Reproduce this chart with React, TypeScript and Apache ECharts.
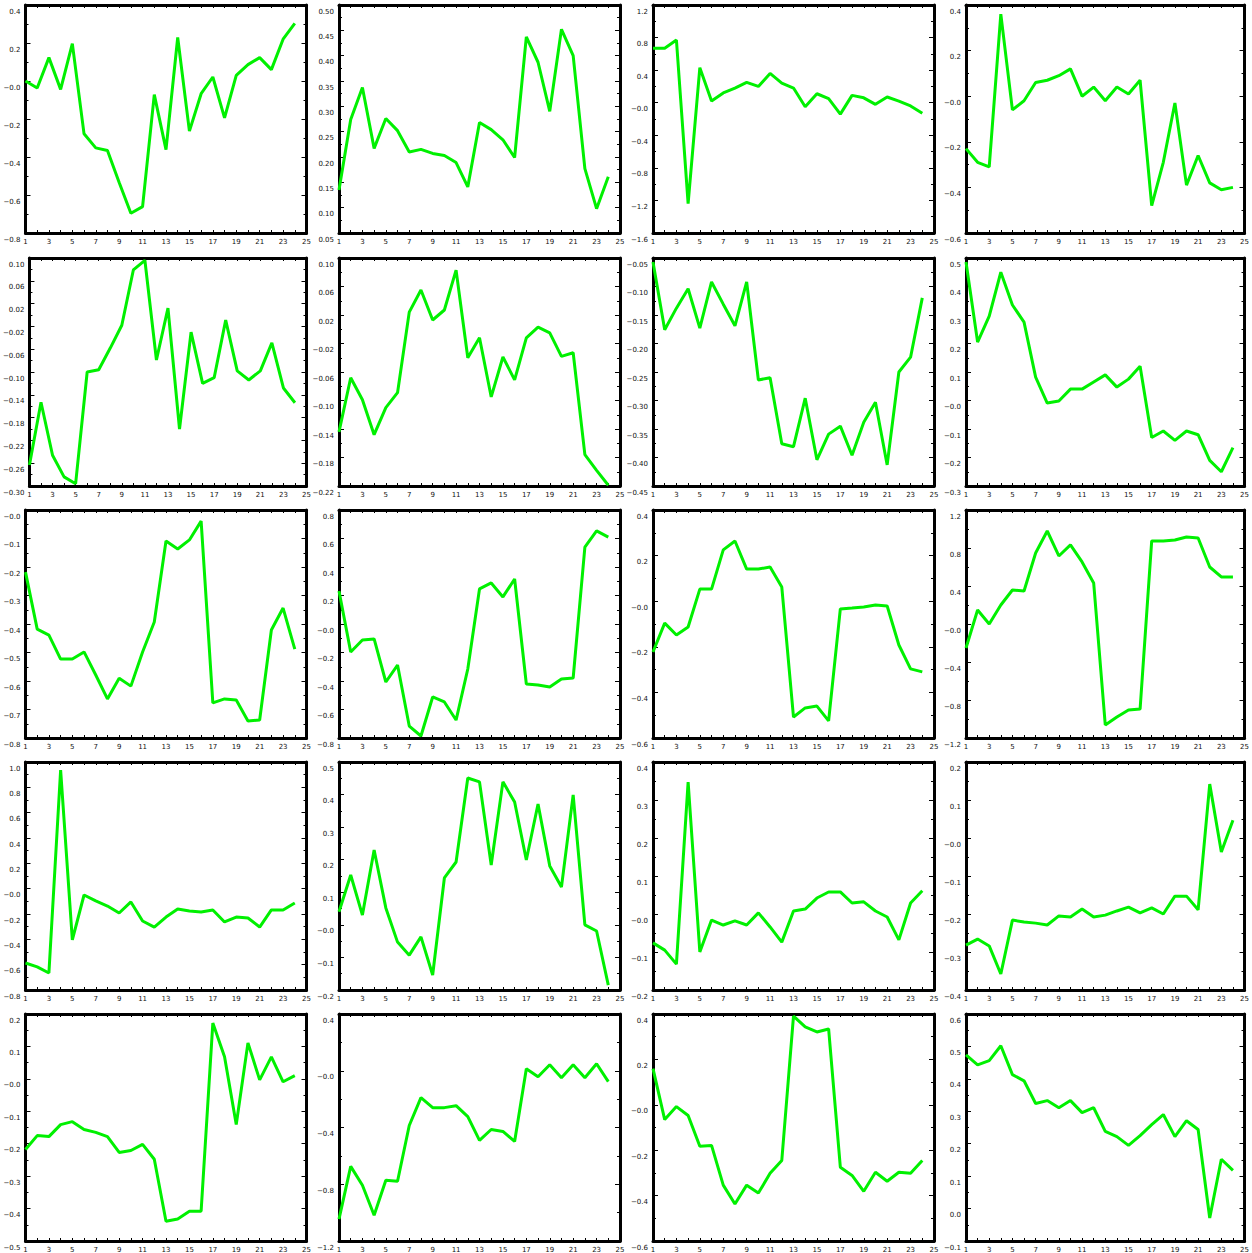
import React, { useEffect, useRef } from "react";
import * as echarts from "echarts";

// x positions 1..24
const xs: number[] = Array.from({ length: 24 }, (_, i) => i + 1);

// Row 1
const s11 = [0.0, -0.037, 0.123, -0.044, 0.197, -0.278, -0.352, -0.366, -0.534, -0.696, -0.661, -0.072, -0.361, 0.229, -0.264, -0.067, 0.021, -0.194, 0.03, 0.086, 0.123, 0.06, 0.22, 0.303];
const s12 = [0.135, 0.274, 0.337, 0.217, 0.276, 0.252, 0.21, 0.215, 0.207, 0.203, 0.189, 0.141, 0.268, 0.254, 0.234, 0.199, 0.437, 0.387, 0.29, 0.452, 0.4, 0.177, 0.098, 0.161];
const s13 = [0.67, 0.67, 0.77, -1.24, 0.43, 0.02, 0.12, 0.18, 0.25, 0.2, 0.36, 0.24, 0.18, -0.05, 0.11, 0.05, -0.14, 0.09, 0.06, -0.02, 0.07, 0.02, -0.04, -0.13];
const s14 = [-0.23, -0.29, -0.31, 0.36, -0.06, -0.02, 0.06, 0.07, 0.09, 0.12, 0.0, 0.04, -0.02, 0.04, 0.01, 0.07, -0.48, -0.29, -0.03, -0.39, -0.26, -0.38, -0.41, -0.4];
// Row 2
const s21 = [-0.263, -0.153, -0.246, -0.284, -0.296, -0.1, -0.096, -0.058, -0.018, 0.079, 0.096, -0.079, 0.012, -0.2, -0.03, -0.12, -0.11, -0.009, -0.098, -0.114, -0.098, -0.049, -0.128, -0.154];
const s22 = [-0.144, -0.068, -0.099, -0.148, -0.11, -0.089, 0.024, 0.055, 0.013, 0.027, 0.083, -0.04, -0.012, -0.095, -0.039, -0.071, -0.012, 0.003, -0.005, -0.038, -0.033, -0.176, -0.198, -0.219];
const s23 = [-0.057, -0.176, -0.138, -0.104, -0.173, -0.092, -0.131, -0.169, -0.092, -0.264, -0.26, -0.376, -0.381, -0.296, -0.404, -0.359, -0.345, -0.396, -0.338, -0.303, -0.413, -0.25, -0.224, -0.12];
const s24 = [0.486, 0.205, 0.296, 0.45, 0.335, 0.275, 0.082, -0.009, -0.002, 0.04, 0.04, 0.065, 0.09, 0.047, 0.075, 0.12, -0.13, -0.107, -0.14, -0.107, -0.12, -0.21, -0.25, -0.165];
// Row 3
const s31 = [-0.218, -0.418, -0.439, -0.523, -0.523, -0.498, -0.579, -0.663, -0.59, -0.618, -0.498, -0.393, -0.109, -0.137, -0.105, -0.039, -0.677, -0.663, -0.667, -0.74, -0.737, -0.421, -0.344, -0.488];
const s32 = [0.232, -0.197, -0.112, -0.105, -0.407, -0.288, -0.716, -0.786, -0.512, -0.547, -0.674, -0.316, 0.246, 0.288, 0.19, 0.316, -0.421, -0.428, -0.442, -0.386, -0.379, 0.54, 0.653, 0.61];
const s33 = [-0.223, -0.096, -0.148, -0.113, 0.053, 0.053, 0.225, 0.264, 0.141, 0.141, 0.15, 0.062, -0.508, -0.468, -0.46, -0.525, -0.034, -0.03, -0.025, -0.017, -0.021, -0.192, -0.297, -0.31];
const s34 = [-0.253, 0.147, 0.0, 0.2, 0.358, 0.347, 0.747, 0.979, 0.716, 0.832, 0.653, 0.432, -1.063, -0.979, -0.905, -0.895, 0.874, 0.874, 0.884, 0.916, 0.905, 0.6, 0.495, 0.495];
// Row 4
const s41 = [-0.587, -0.618, -0.666, 0.937, -0.405, -0.05, -0.097, -0.137, -0.192, -0.105, -0.255, -0.303, -0.224, -0.161, -0.176, -0.184, -0.168, -0.263, -0.224, -0.232, -0.303, -0.168, -0.168, -0.113];
const s42 = [0.04, 0.153, 0.03, 0.23, 0.052, -0.053, -0.093, -0.037, -0.154, 0.144, 0.193, 0.451, 0.439, 0.184, 0.439, 0.377, 0.199, 0.371, 0.181, 0.116, 0.399, 0.0, -0.019, -0.185];
const s43 = [-0.076, -0.095, -0.132, 0.347, -0.1, -0.016, -0.029, -0.018, -0.029, 0.003, -0.034, -0.074, 0.008, 0.013, 0.042, 0.058, 0.058, 0.029, 0.032, 0.008, -0.008, -0.068, 0.029, 0.061];
const s44 = [-0.282, -0.266, -0.284, -0.358, -0.216, -0.221, -0.224, -0.229, -0.205, -0.208, -0.187, -0.208, -0.203, -0.192, -0.182, -0.197, -0.184, -0.2, -0.153, -0.153, -0.189, 0.142, -0.037, 0.047];
// Row 5
const s51 = [-0.218, -0.175, -0.178, -0.141, -0.132, -0.156, -0.165, -0.178, -0.227, -0.221, -0.202, -0.248, -0.439, -0.432, -0.408, -0.408, 0.172, 0.068, -0.141, 0.111, -0.003, 0.068, -0.009, 0.01];
const s52 = [-1.046, -0.674, -0.807, -1.018, -0.772, -0.779, -0.386, -0.19, -0.26, -0.26, -0.246, -0.323, -0.491, -0.414, -0.428, -0.498, 0.014, -0.042, 0.042, -0.049, 0.042, -0.049, 0.049, -0.077];
const s53 = [0.159, -0.065, -0.008, -0.047, -0.183, -0.179, -0.354, -0.437, -0.354, -0.389, -0.302, -0.245, 0.391, 0.343, 0.321, 0.334, -0.275, -0.311, -0.381, -0.297, -0.337, -0.297, -0.302, -0.245];
const s54 = [0.474, 0.443, 0.456, 0.502, 0.413, 0.394, 0.324, 0.333, 0.311, 0.333, 0.296, 0.311, 0.238, 0.222, 0.195, 0.225, 0.259, 0.29, 0.222, 0.271, 0.244, -0.029, 0.152, 0.118];

const seriesList: number[][] = [s11, s12, s13, s14, s21, s22, s23, s24, s31, s32, s33, s34, s41, s42, s43, s44, s51, s52, s53, s54];

// y axis ranges: [min, max, interval, decimals, zero label]
const yMins = [-0.8, 0.05, -1.6, -0.6, -0.3, -0.22, -0.45, -0.3, -0.8, -0.8, -0.6, -1.2, -0.8, -0.2, -0.2, -0.4, -0.5, -1.2, -0.6, -0.1];
const yMaxs = [0.4, 0.5, 1.2, 0.4, 0.1, 0.1, -0.05, 0.5, 0.0, 0.8, 0.4, 1.2, 1.0, 0.5, 0.4, 0.2, 0.2, 0.4, 0.4, 0.6];
const yIntervals = [0.2, 0.05, 0.4, 0.2, 0.04, 0.04, 0.05, 0.1, 0.1, 0.2, 0.2, 0.4, 0.2, 0.1, 0.1, 0.1, 0.1, 0.4, 0.2, 0.1];
const yDecimals = [1, 2, 1, 1, 2, 2, 2, 1, 1, 1, 1, 1, 1, 1, 1, 1, 1, 1, 1, 1];
const zeroLabels = ["−0.0", "0.00", "−0.0", "−0.0", "0.00", "0.00", "0.00", "−0.0", "−0.0", "−0.0", "−0.0", "−0.0", "−0.0", "−0.0", "−0.0", "−0.0", "−0.0", "−0.0", "−0.0", "0.0"];

const xTickLabels = ["1", "3", "5", "7", "9", "11", "13", "15", "17", "19", "21", "23", "25"];

const colLefts = [25.5, 339, 653, 966];
const rowTops = [5, 258, 510, 762, 1014];
const boxW = 281;
const boxH = 228;

const GREEN = "#00f000";
const FONT = "DejaVu Sans";

function buildOption() {
  const grid: any[] = [];
  const xAxis: any[] = [];
  const yAxis: any[] = [];
  const series: any[] = [];
  seriesList.forEach((vals, k) => {
    const r = Math.floor(k / 4);
    const c = k % 4;
    grid.push({ left: colLefts[c], top: rowTops[r], width: boxW, height: boxH, containLabel: false });
    const lineStyle = { color: "#000", width: 3 };
    const baseX = {
      type: "value",
      gridIndex: k,
      min: 1,
      max: 25,
      interval: 2,
      splitLine: { show: false },
      axisLine: { show: true, onZero: false, lineStyle },
      axisTick: { show: true, inside: true, length: 3, lineStyle: { color: "#000", width: 1 } },
      minorTick: { show: true, splitNumber: 2, length: 3, lineStyle: { color: "#000", width: 1 } },
    };
    xAxis.push({
      ...baseX,
      position: "bottom",
      axisLabel: {
        show: true,
        fontSize: 7,
        fontFamily: FONT,
        color: "#111",
        margin: 5,
        formatter: (v: number) => (xTickLabels.includes(String(Math.round(v))) && Math.abs(v - Math.round(v)) < 1e-6 ? String(Math.round(v)) : ""),
      },
    });
    xAxis.push({ ...baseX, position: "top", axisLabel: { show: false } });
    const d = yDecimals[k];
    const zl = zeroLabels[k];
    const baseY = {
      type: "value",
      gridIndex: k,
      min: yMins[k],
      max: yMaxs[k],
      interval: yIntervals[k],
      splitLine: { show: false },
      axisLine: { show: true, onZero: false, lineStyle },
      axisTick: { show: true, inside: true, length: 5, lineStyle: { color: "#000", width: 1 } },
      minorTick: { show: true, splitNumber: 2, length: 3, lineStyle: { color: "#000", width: 1 } },
    };
    yAxis.push({
      ...baseY,
      position: "left",
      axisLabel: {
        show: true,
        fontSize: 7,
        fontFamily: FONT,
        color: "#111",
        margin: 5,
        verticalAlign: "top",
        padding: [3, 0, 0, 0],
        formatter: (v: number) => {
          if (Math.abs(v) < 1e-9) return zl;
          return (v < 0 ? "−" : "") + Math.abs(v).toFixed(d);
        },
      },
    });
    yAxis.push({ ...baseY, position: "right", axisLabel: { show: false } });
    series.push({
      type: "line",
      xAxisIndex: 2 * k,
      yAxisIndex: 2 * k,
      data: vals.map((v, i) => [xs[i], v]),
      showSymbol: false,
      symbol: "none",
      lineStyle: { color: GREEN, width: 3 },
      clip: false,
    });
  });
  return { animation: false, backgroundColor: "#fff", grid, xAxis, yAxis, series };
}

export default function App() {
  const ref = useRef<HTMLDivElement>(null);
  useEffect(() => {
    if (!ref.current) return;
    const chart = echarts.init(ref.current, undefined, { renderer: "svg" });
    chart.setOption(buildOption() as any);
    return () => chart.dispose();
  }, []);
  return (
    <div
      ref={ref}
      style={{ position: "absolute", left: 0, top: 0, width: 1252, height: 1253, background: "#fff" }}
    />
  );
}
